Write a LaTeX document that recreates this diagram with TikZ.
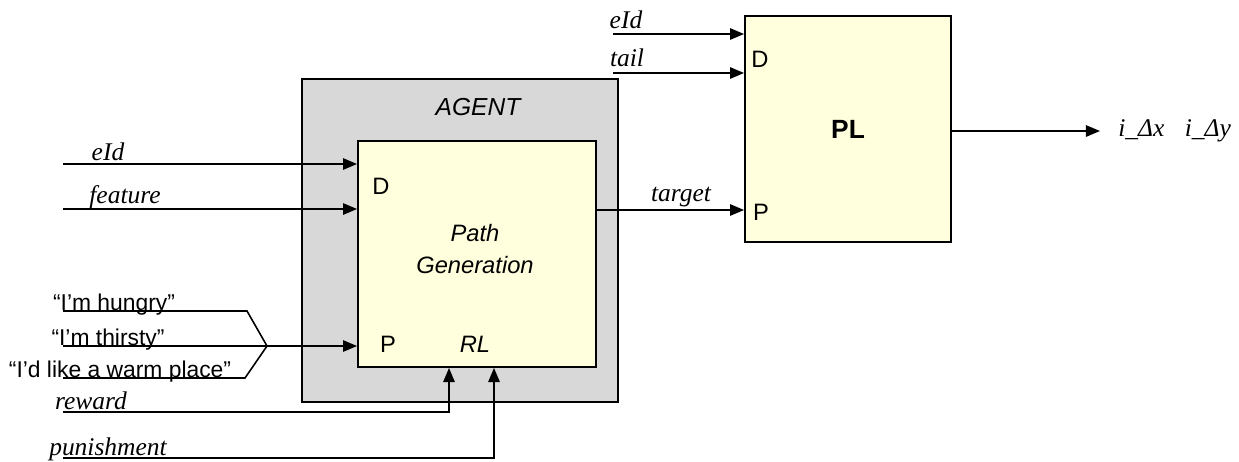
\documentclass[tikz,border=0pt]{standalone}
\usepackage{fontspec}
\setmainfont{Liberation Sans}
\newfontfamily\sigfont{Liberation Serif}
\usetikzlibrary{arrows.meta}

\definecolor{agentgray}{RGB}{216,216,216}
\definecolor{blockyellow}{RGB}{255,255,221}

\begin{document}
\begin{tikzpicture}[x=0.02cm, y=-0.02cm,
  >={Triangle[length=8pt,width=6.5pt]},
  sig/.style={->, line width=0.9pt},
  wire/.style={line width=0.9pt},
  block/.style={draw, line width=1.1pt, fill=blockyellow, inner sep=0pt},
  siglbl/.style={inner sep=0pt, font=\sigfont\itshape\fontsize{14.5}{16}\selectfont},
  portlbl/.style={inner sep=0pt, font=\fontsize{13.5}{15}\selectfont},
  quotelbl/.style={inner sep=0pt, anchor=base, font=\fontsize{13}{15}\selectfont}]
\useasboundingbox (0,0) rectangle (1239,461);
% agent frame and its block
\node[draw, line width=1.1pt, fill=agentgray, minimum width=6.32cm, minimum height=6.46cm] (agent) at (460,240.5) {};
\node[portlbl, font=\itshape\fontsize{14}{16}\selectfont] (agentlbl) at (478,107) {AGENT};
\node[block, minimum width=4.76cm, minimum height=4.52cm] (gen) at (477,254) {};
\node[portlbl] (genD) at (381,186) {D};
\node[portlbl] (genP) at (388,344) {P};
\node[portlbl, font=\itshape\fontsize{13.5}{15}\selectfont] (genRL) at (475,344) {RL};
\node[portlbl, font=\itshape\fontsize{13.5}{15}\selectfont, align=center] (genname) at (475,249) {Path\\[3pt]Generation};
% PL block
\node[block, minimum width=4.12cm, minimum height=4.52cm] (pl) at (848,129) {};
\node[portlbl] (plD) at (760,59) {D};
\node[portlbl] (plP) at (761,212) {P};
\node[portlbl, font=\bfseries\fontsize{15}{17}\selectfont] (plname) at (pl) {PL};
% inputs on D
\coordinate (eIdin) at (63,164);
\coordinate (featin) at (63,209);
\draw[sig] (eIdin) -- (eIdin -| gen.west);
\draw[sig] (featin) -- (featin -| gen.west);
\node[siglbl] (eIdlbl) at (108,152) {eId};
\node[siglbl] (featlbl) at (125,197) {feature};
% the three wishes merge into P
\coordinate (hungry) at (63,311);
\coordinate (thirsty) at (63,346);
\coordinate (warm) at (63,378);
\coordinate (merge) at (267,346);
\draw[wire] (hungry) -- (247,311) -- (merge);
\draw[wire] (warm) -- (245,378) -- (merge);
\draw[sig] (thirsty) -- (thirsty -| gen.west);
\node[quotelbl] (hungrylbl) at (114,310) {“I’m hungry”};
\node[quotelbl] (thirstylbl) at (108,345) {“I’m thirsty”};
\node[quotelbl] (warmlbl) at (120,377) {“I’d like a warm place”};
% reinforcement into RL
\coordinate (rw) at (63,412);
\coordinate (rwup) at (449,412);
\coordinate (pn) at (63,458);
\coordinate (pnup) at (494,458);
\draw[sig] (rw) -- (rwup) -- (rwup |- gen.south);
\draw[sig] (pn) -- (pnup) -- (pnup |- gen.south);
\node[siglbl, anchor=base] (rwlbl) at (91,409) {reward};
\node[siglbl, anchor=base] (pnlbl) at (108,455) {punishment};
% target from agent to PL
\coordinate (tgt) at (700,210);
\draw[sig] (tgt -| gen.east) -- (tgt -| pl.west);
\node[siglbl] (tgtlbl) at (681,197) {target};
% inputs on PL
\coordinate (eIdtop) at (613,34);
\coordinate (tailtop) at (613,73);
\draw[sig] (eIdtop) -- (eIdtop -| pl.west);
\draw[sig] (tailtop) -- (tailtop -| pl.west);
\node[siglbl] (eIdtoplbl) at (626,20) {eId};
\node[siglbl] (taillbl) at (627,58) {tail};
% output
\coordinate (out) at (1100,131);
\draw[sig] (out -| pl.east) -- (out);
\node[siglbl, anchor=west] (outlbl) at (1118,131) {i\_Δx\hspace{0.8em}i\_Δy};
\end{tikzpicture}
\end{document}
